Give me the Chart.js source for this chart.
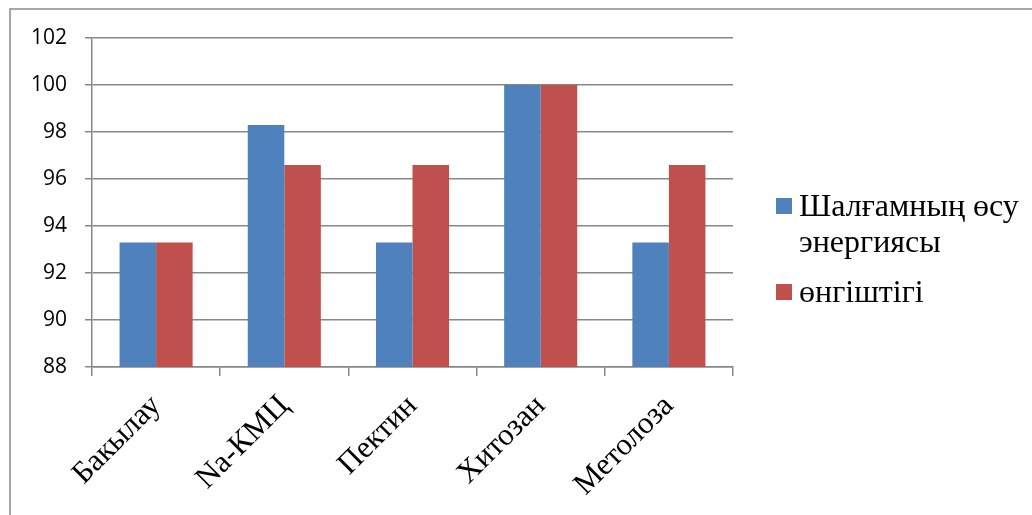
<!DOCTYPE html>
<html>
<head>
<meta charset="utf-8">
<script src="https://cdn.jsdelivr.net/npm/chart.js@4"></script>
<style>
  html, body { margin: 0; padding: 0; background: #fff; }
  #wrap { position: relative; width: 1032px; height: 515px; }
</style>
</head>
<body>
<div id="wrap"><canvas id="chart" width="1032" height="515"></canvas></div>
<script>
// Categories (treatments) and the two measured series
const categories = ['Бакылау', 'Na-КМЦ', 'Пектин', 'Хитозан', 'Метолоза'];
const seriesNames = ['Шалғамның өсу энергиясы', 'өнгіштігі'];
const growthEnergy = [93.3, 98.3, 93.3, 100, 93.3];
const germination = [93.3, 96.6, 96.6, 100, 96.6];
const yTicks = [88, 90, 92, 94, 96, 98, 100, 102];

const BLUE = '#4F81BD';
const RED = '#C0504D';
const GRID = '#878787';
const SERIF = '"Liberation Serif", "Times New Roman", serif';
const SANS = '"Open Sans", "Liberation Sans", sans-serif';

// Outer frame around the figure (left and top edges visible)
const framePlugin = {
  id: 'frame',
  beforeDraw(chart) {
    const ctx = chart.ctx;
    ctx.save();
    ctx.strokeStyle = '#8a8a8a';
    ctx.lineWidth = 1.5;
    ctx.beginPath();
    ctx.moveTo(10, 515);
    ctx.lineTo(10, 9);
    ctx.lineTo(1032, 9);
    ctx.stroke();
    ctx.restore();
  }
};

// Legend on the right with wrapped series names
const sideLegend = {
  id: 'sideLegend',
  afterDraw(chart) {
    const ctx = chart.ctx;
    ctx.save();
    ctx.font = '32px ' + SERIF;
    ctx.fillStyle = '#000';
    ctx.textBaseline = 'alphabetic';
    const x0 = 776, tx = 799, maxW = 230, lineH = 36;
    let baseline = 216;
    chart.data.datasets.forEach((ds, i) => {
      const words = ds.label.split(' ');
      const lines = [];
      let cur = '';
      words.forEach(w => {
        const test = cur ? cur + ' ' + w : w;
        if (cur && ctx.measureText(test).width > maxW) { lines.push(cur); cur = w; }
        else cur = test;
      });
      if (cur) lines.push(cur);
      ctx.fillStyle = ds.backgroundColor;
      ctx.fillRect(x0, baseline - 18, 16, 16);
      ctx.fillStyle = '#000';
      lines.forEach((ln, k) => ctx.fillText(ln, tx, baseline + k * lineH));
      baseline += (lines.length - 1) * lineH + 50;
    });
    ctx.restore();
  }
};

new Chart(document.getElementById('chart'), {
  type: 'bar',
  data: {
    labels: categories,
    datasets: [
      { label: seriesNames[0], data: growthEnergy, backgroundColor: BLUE, borderWidth: 0 },
      { label: seriesNames[1], data: germination, backgroundColor: RED, borderWidth: 0 }
    ]
  },
  options: {
    responsive: false,
    animation: false,
    devicePixelRatio: 1,
    layout: { padding: { left: 0, right: 299, top: 38, bottom: 0 } },
    datasets: { bar: { categoryPercentage: 0.57, barPercentage: 1.0 } },
    plugins: {
      legend: { display: false },
      tooltip: { enabled: false },
      title: { display: false }
    },
    scales: {
      x: {
        afterFit(s) { s.height = 148; },
        grid: {
          offset: true,
          drawOnChartArea: false,
          drawTicks: true,
          tickLength: 9,
          color: GRID,
          lineWidth: 1.5
        },
        border: { display: true, color: GRID, width: 1.5 },
        ticks: {
          color: '#000',
          font: { family: SERIF, size: 31 },
          minRotation: 45,
          maxRotation: 45,
          padding: 12,
          autoSkip: false
        }
      },
      y: {
        min: yTicks[0],
        max: yTicks[yTicks.length - 1],
        afterFit(s) { s.width = 92; },
        afterBuildTicks(s) { s.ticks = yTicks.map(v => ({ value: v })); },
        grid: {
          drawTicks: true,
          tickLength: 7,
          color: GRID,
          lineWidth: 1.5
        },
        border: { display: true, color: GRID, width: 1.5 },
        ticks: {
          color: '#000',
          font: { family: SANS, size: 21 },
          padding: 18
        }
      }
    }
  },
  plugins: [framePlugin, sideLegend]
});
</script>
</body>
</html>
